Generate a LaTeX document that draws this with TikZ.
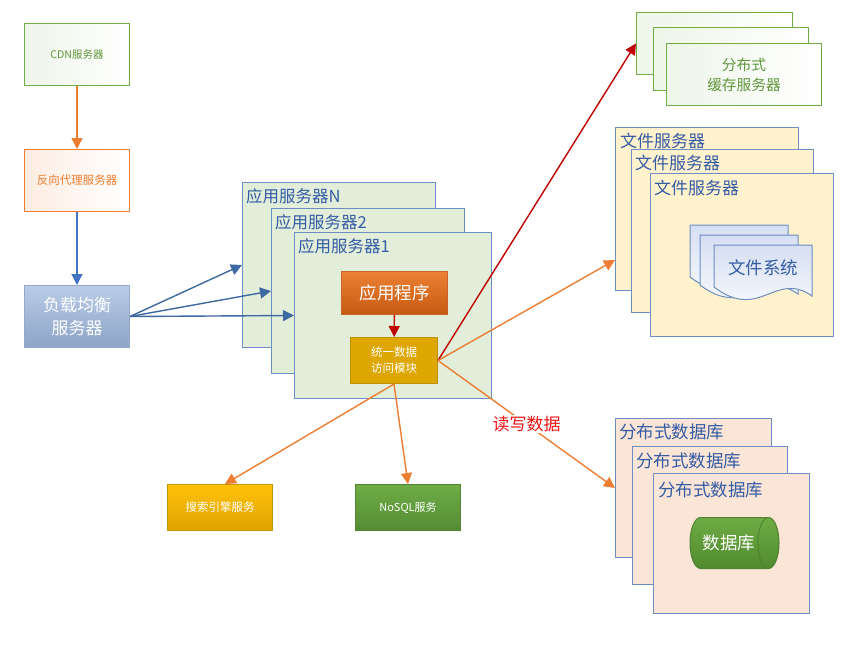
\documentclass[tikz,border=0pt]{standalone}
\usepackage{fontspec}
\setmainfont{Noto Sans CJK SC}
\usetikzlibrary{arrows.meta,shapes.geometric}
\definecolor{cgreen}{RGB}{112,173,71}
\definecolor{cgreentext}{RGB}{96,150,60}
\definecolor{corange}{RGB}{237,125,49}
\definecolor{cblue}{RGB}{108,142,196}
\definecolor{ctitle}{RGB}{52,92,165}
\definecolor{carrblue}{RGB}{68,114,196}
\definecolor{clbarr}{RGB}{62,104,160}
\definecolor{cred}{RGB}{192,0,0}
\definecolor{cappbg}{RGB}{226,238,218}
\definecolor{cfilebg}{RGB}{255,242,204}
\definecolor{cdbbg}{RGB}{251,229,214}
\begin{document}
\begin{tikzpicture}[x=1pt,y=-1pt,
  box/.style={draw, rectangle, inner sep=0pt, anchor=north west, line width=1pt},
  grnbox/.style={box, draw=cgreen, left color=cgreen!12!white, right color=white, text=cgreentext},
  appbox/.style={box, draw=cblue, fill=cappbg},
  filebox/.style={box, draw=cblue, fill=cfilebg},
  dbbox/.style={box, draw=cblue, fill=cdbbg},
  title/.style={anchor=base west, inner sep=0pt, text=ctitle},
  arr/.style={-{Triangle[width=11pt,length=11pt]}, line width=1.4pt},
  docsh/.style={draw=cblue, line width=1pt, top color={rgb,255:red,214;green,223;blue,242}, bottom color=white},
  whitetxt/.style={text=white}
]
\useasboundingbox (0,0) rectangle (854,648);

% left column
\node[grnbox, minimum width=105pt, minimum height=62pt, font=\fontsize{10.5}{12}\selectfont] (cdn) at (24,23) {CDN服务器};
\node[box, draw=corange, left color=corange!14!white, right color=white, text=corange, minimum width=105pt, minimum height=62pt, font=\fontsize{11.5}{13}\selectfont] (proxy) at (24,149) {反向代理服务器};
\node[box, draw={rgb,255:red,150;green,170;blue,200}, top color={rgb,255:red,186;green,204;blue,230}, bottom color={rgb,255:red,140;green,164;blue,200}, whitetxt, align=center, minimum width=105pt, minimum height=62pt, font=\fontsize{17}{23}\selectfont] (lb) at (24,285) {负载均衡\\服务器};

% application servers
\node[appbox, minimum width=193pt, minimum height=165pt] (srvN) at (242,182) {};
\node[title, font=\fontsize{16.5}{18}\selectfont] (tN) at (246,202) {应用服务器N};
\node[appbox, minimum width=193pt, minimum height=165pt] (srv2) at (271,208) {};
\node[title, font=\fontsize{16.5}{18}\selectfont] (t2) at (275,228) {应用服务器2};
\node[appbox, minimum width=197pt, minimum height=166pt] (srv1) at (294,232) {};
\node[title, font=\fontsize{16.5}{18}\selectfont] (t1) at (298,252) {应用服务器1};

\node[box, draw={rgb,255:red,200;green,100;blue,40}, top color={rgb,255:red,236;green,128;blue,52}, bottom color={rgb,255:red,197;green,90;blue,17}, whitetxt, minimum width=106pt, minimum height=43pt, font=\fontsize{17.5}{20}\selectfont] (app) at (341,271) {应用程序};
\node[box, draw={rgb,255:red,191;green,144;blue,0}, fill={rgb,255:red,222;green,166;blue,0}, whitetxt, align=center, minimum width=87pt, minimum height=46pt, font=\fontsize{11.5}{16}\selectfont] (dam) at (350,337) {统一数据\\访问模块};

% bottom services
\node[box, draw={rgb,255:red,200;green,150;blue,0}, top color={rgb,255:red,255;green,194;blue,10}, bottom color={rgb,255:red,222;green,162;blue,0}, whitetxt, minimum width=105pt, minimum height=46pt, font=\fontsize{11.5}{13}\selectfont] (search) at (167,484) {搜索引擎服务};
\node[box, draw={rgb,255:red,84;green,130;blue,53}, top color={rgb,255:red,110;green,172;blue,70}, bottom color={rgb,255:red,84;green,140;blue,52}, whitetxt, minimum width=105pt, minimum height=46pt, font=\fontsize{11}{13}\selectfont] (nosql) at (355,484) {NoSQL服务};

% cache servers
\node[grnbox, minimum width=156pt, minimum height=62pt] (cacheA) at (636,12) {};
\node[grnbox, minimum width=155pt, minimum height=63pt] (cacheB) at (653,27) {};
\node[grnbox, align=center, minimum width=155pt, minimum height=62pt, font=\fontsize{14.7}{20}\selectfont] (cacheC) at (666,43) {分布式\\缓存服务器};

% file servers
\node[filebox, minimum width=183pt, minimum height=163pt] (fileA) at (615,127) {};
\node[title, font=\fontsize{17}{19}\selectfont] (ftA) at (620,147) {文件服务器};
\node[filebox, minimum width=182pt, minimum height=163pt] (fileB) at (631,149) {};
\node[title, font=\fontsize{17}{19}\selectfont] (ftB) at (635,169) {文件服务器};
\node[filebox, minimum width=183pt, minimum height=163pt] (fileC) at (650,173) {};
\node[title, font=\fontsize{17}{19}\selectfont] (ftC) at (654,194) {文件服务器};

% documents
\draw[docsh] (690,225) -- (788,225) -- (788,286) .. controls (751,260) and (736,312) .. (690,277) -- cycle;
\draw[docsh] (700,235) -- (798,235) -- (798,294) .. controls (761,268) and (746,320) .. (700,285) -- cycle;
\draw[docsh] (714,245) -- (812,245) -- (812,296) .. controls (775,270) and (760,322) .. (714,287) -- cycle;
\node[text=ctitle, font=\fontsize{17.5}{19}\selectfont] (fs) at (763,268) {文件系统};

% database servers
\node[dbbox, minimum width=156pt, minimum height=139pt] (dbA) at (615,418) {};
\node[title, font=\fontsize{17.5}{19}\selectfont] (dtA) at (619,438) {分布式数据库};
\node[dbbox, minimum width=155pt, minimum height=138pt] (dbB) at (632,446) {};
\node[title, font=\fontsize{17.5}{19}\selectfont] (dtB) at (636,467) {分布式数据库};
\node[dbbox, minimum width=156pt, minimum height=140pt] (dbC) at (653,473) {};
\node[title, font=\fontsize{17.5}{19}\selectfont] (dtC) at (658,496) {分布式数据库};
\node[cylinder, draw={rgb,255:red,80;green,130;blue,50}, line width=1pt, shape aspect=1.3, minimum width=51pt, minimum height=89pt, inner sep=0pt, top color={rgb,255:red,110;green,172;blue,68}, bottom color={rgb,255:red,80;green,138;blue,46}, whitetxt, font=\fontsize{17.5}{19}\selectfont] (db) at (729,543) {数据库};

% connectors
\draw[arr, corange] (cdn) -- (proxy);
\draw[arr, carrblue] (proxy) -- (lb);
\draw[arr, clbarr] (lb.east) -- (srvN.west);
\draw[arr, clbarr] (lb.east) -- (srv2.west);
\draw[arr, clbarr] (lb.east) -- (srv1.west);
\draw[arr, cred] (app) -- (dam);
\draw[arr, cred] (dam.east) -- (cacheA.west);
\coordinate (fileIn) at (615,260);
\draw[arr, corange] (dam.east) -- (fileIn);
\draw[arr, corange] (dam.east) -- (dbA.west) node[pos=0.5, fill=white, inner sep=1pt, text={rgb,255:red,235;green,20;blue,20}, font=\fontsize{17}{19}\selectfont] (rw) {读写数据};
\draw[arr, corange] (dam.south) -- ([xshift=5pt]search.north);
\draw[arr, corange] (dam.south) -- (nosql.north);
\end{tikzpicture}
\end{document}
